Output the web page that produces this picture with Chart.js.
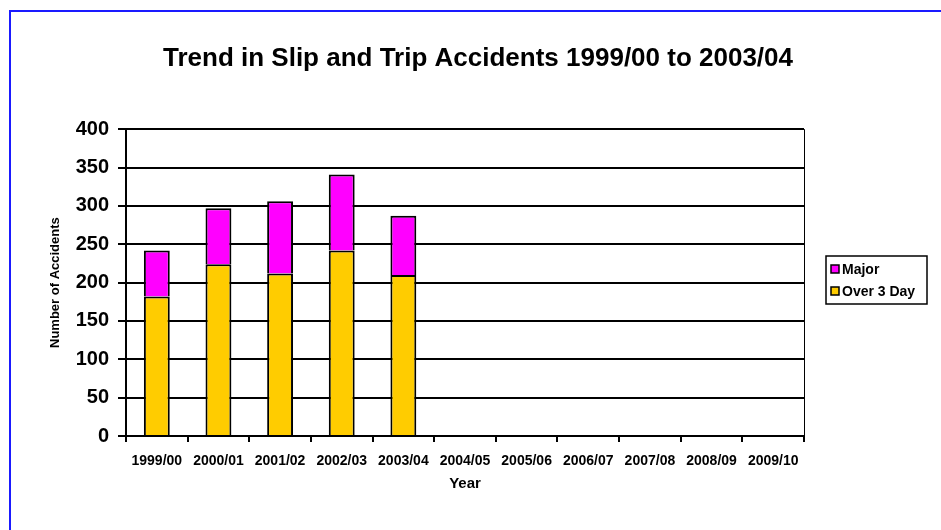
<!DOCTYPE html>
<html>
<head>
<meta charset="utf-8">
<script src="https://cdn.jsdelivr.net/npm/chart.js@4.4.0/dist/chart.umd.min.js"></script>
<style>
  html, body { margin: 0; padding: 0; background: #fff; }
  #wrap { width: 941px; height: 530px; }
</style>
</head>
<body>
<div id="wrap"><canvas id="accidents-chart" width="941" height="530"></canvas></div>
<script>
// data
const years = ['1999/00', '2000/01', '2001/02', '2002/03', '2003/04', '2004/05',
  '2005/06', '2006/07', '2007/08', '2008/09', '2009/10'];
const over3Day = [182, 224, 212, 242, 210, null, null, null, null, null, null];
const major = [60, 73, 94, 99, 77, null, null, null, null, null, null];
const yTicks = [0, 50, 100, 150, 200, 250, 300, 350, 400];

const FONT = 'Liberation Sans, Arial, sans-serif';

// blue frame, right hand plot border and boxed legend
const extras = {
  id: 'extras',
  afterLayout(chart) {
    // title is centred on the whole frame, not on the plot
    chart.titleBlock.left = 20;
    chart.titleBlock.right = 936;
  },
  beforeDraw(chart) {
    const ctx = chart.ctx;
    ctx.save();
    ctx.strokeStyle = '#1a1aff';
    ctx.lineWidth = 2;
    ctx.beginPath();
    ctx.moveTo(10, 530);
    ctx.lineTo(10, 11);
    ctx.lineTo(941, 11);
    ctx.stroke();
    ctx.restore();
  },
  afterDraw(chart) {
    const ctx = chart.ctx;
    const a = chart.chartArea;
    ctx.save();
    ctx.strokeStyle = '#000';
    ctx.lineWidth = 1;
    ctx.beginPath();
    ctx.moveTo(a.right + 0.5, a.top);
    ctx.lineTo(a.right + 0.5, a.bottom);
    ctx.stroke();

    // legend
    const bx = 826, by = 256, bw = 101, bh = 48;
    ctx.lineWidth = 1.5;
    ctx.strokeRect(bx, by, bw, bh);
    const items = chart.data.datasets.slice().reverse();
    ctx.font = 'bold 14px ' + FONT;
    ctx.textBaseline = 'middle';
    items.forEach((ds, i) => {
      const y = by + 13 + i * 22;
      ctx.fillStyle = ds.backgroundColor;
      ctx.fillRect(831, y - 4, 8, 8);
      ctx.lineWidth = 1.5;
      ctx.strokeRect(831, y - 4, 8, 8);
      ctx.fillStyle = '#000';
      ctx.fillText(ds.label, 842, y + 1);
    });
    ctx.restore();
  }
};

new Chart(document.getElementById('accidents-chart'), {
  type: 'bar',
  data: {
    labels: years,
    datasets: [
      {
        label: 'Over 3 Day',
        data: over3Day,
        backgroundColor: '#ffcc00',
        borderColor: '#000',
        borderWidth: 2
      },
      {
        label: 'Major',
        data: major,
        backgroundColor: '#ff00ff',
        borderColor: '#000',
        borderWidth: 2
      }
    ]
  },
  options: {
    responsive: false,
    animation: false,
    devicePixelRatio: 1,
    layout: { padding: { left: 40, right: 137, top: 0, bottom: 34 } },
    datasets: { bar: { barPercentage: 0.42, categoryPercentage: 1.0 } },
    plugins: {
      legend: { display: false },
      tooltip: { enabled: false },
      title: {
        display: true,
        text: 'Trend in Slip and Trip Accidents 1999/00 to 2003/04',
        color: '#000',
        font: { family: FONT, size: 26, weight: 'bold' },
        padding: { top: 43, bottom: 55 }
      }
    },
    scales: {
      x: {
        stacked: true,
        afterFit(scale) { scale.height = 60; },
        grid: { drawOnChartArea: false, drawTicks: true, tickLength: 6, color: '#000', lineWidth: 2 },
        border: { color: '#000', width: 2 },
        ticks: {
          color: '#000', padding: 11, maxRotation: 0, autoSkip: false,
          font: { family: FONT, size: 14, weight: 'bold' }
        },
        title: {
          display: true, text: 'Year', color: '#000',
          font: { family: FONT, size: 15, weight: 'bold' },
          padding: { top: 0, bottom: 3 }
        }
      },
      y: {
        stacked: true,
        min: 0,
        max: 400,
        afterFit(scale) { scale.width = 86; },
        afterBuildTicks(scale) { scale.ticks = yTicks.map(v => ({ value: v })); },
        grid: { color: '#000', lineWidth: 2, tickLength: 8 },
        border: { color: '#000', width: 2 },
        ticks: {
          color: '#000', padding: 9,
          font: { family: FONT, size: 20, weight: 'bold' }
        },
        title: {
          display: true, text: 'Number of Accidents', color: '#000',
          font: { family: FONT, size: 13, weight: 'bold' },
          padding: { top: 8, bottom: 0 }
        }
      }
    }
  },
  plugins: [extras]
});
</script>
</body>
</html>
